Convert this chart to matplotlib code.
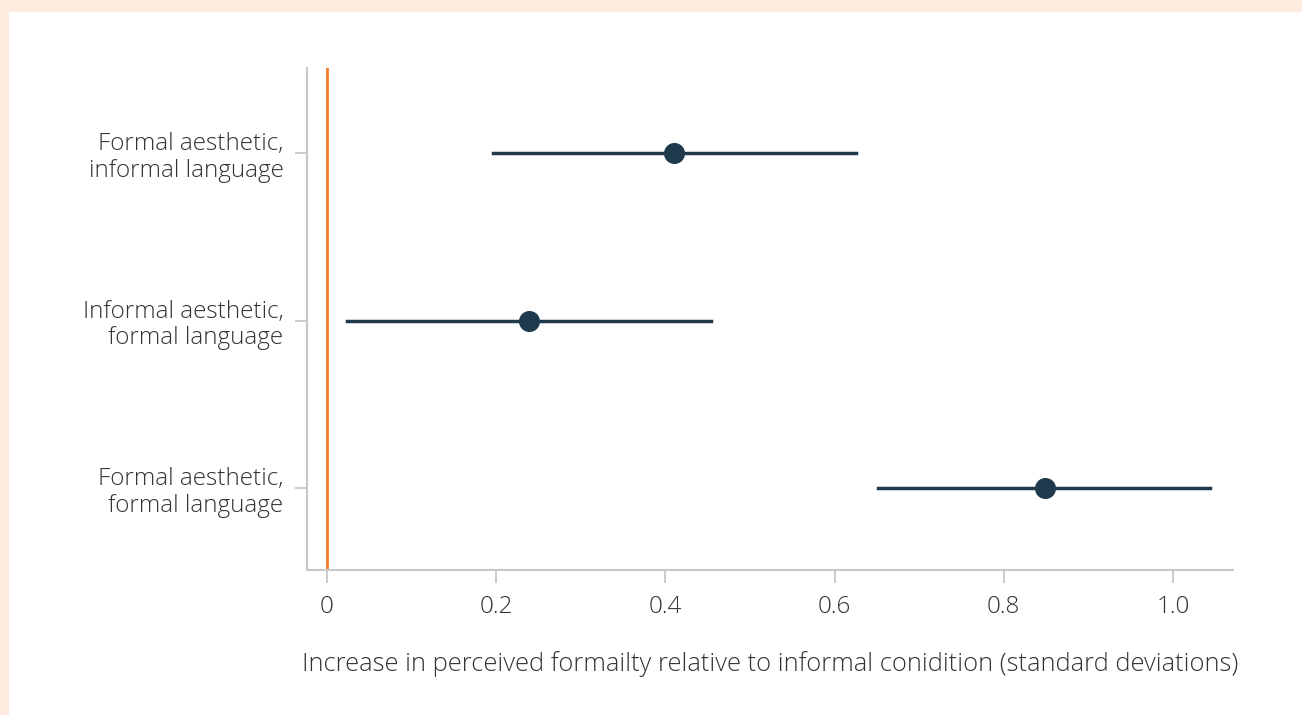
import matplotlib.pyplot as plt
from matplotlib.patches import Rectangle

labels = ["Formal aesthetic,\ninformal language",
          "Informal aesthetic,\nformal language",
          "Formal aesthetic,\nformal language"]
estimates = [0.41, 0.239, 0.849]
ci_low = [0.196, 0.024, 0.651]
ci_high = [0.625, 0.454, 1.044]
xticks = [0, 0.2, 0.4, 0.6, 0.8, 1.0]
xticklabels = ["0", "0.2", "0.4", "0.6", "0.8", "1.0"]

plt.rcParams['font.family'] = ['Open Sans', 'DejaVu Sans']
plt.rcParams['font.weight'] = 'light'

fig = plt.figure(figsize=(13.02, 7.15), dpi=100, facecolor="#FDEBE0")
fig.patches.append(Rectangle((9 / 1302, 0), 1, 1 - 12 / 715, transform=fig.transFigure,
                             facecolor="white", edgecolor="none", zorder=-1))
ax = fig.add_axes([307 / 1302, 1 - 570 / 715, (1233 - 307) / 1302, (570 - 68) / 715])
ax.set_facecolor("none")
ax.set_zorder(1)

navy = "#1F3A4D"
grey = "#C8C8C8"
txt = "#333333"
ypos = list(range(len(labels)))

ax.axvline(0, color="#F47B2A", lw=2, zorder=1)
for y, e, lo, hi in zip(ypos, estimates, ci_low, ci_high):
    ax.plot([lo, hi], [y, y], color=navy, lw=2.5, zorder=2)
ax.scatter(estimates, ypos, s=200, color=navy, zorder=3)

ax.set_ylim(2.49, -0.51)
ax.set_xlim(-0.0236, 1.071)
ax.set_yticks(ypos)
ax.set_yticklabels(labels, fontsize=17.5, color=txt, ha="right", linespacing=1.15)
ax.set_xticks(xticks)
ax.set_xticklabels(xticklabels, fontsize=17.5, color=txt)
ax.tick_params(axis="both", length=9, width=1.3, color=grey)
ax.tick_params(axis="y", pad=8)
ax.tick_params(axis="x", pad=9)

for s in ["top", "right"]:
    ax.spines[s].set_visible(False)
for s in ["left", "bottom"]:
    ax.spines[s].set_color(grey)
    ax.spines[s].set_linewidth(1.5)

ax.set_xlabel("Increase in perceived formailty relative to informal conidition (standard deviations)",
              fontsize=18.4, fontweight="light", color=txt, labelpad=23)

plt.savefig("out.png", dpi=100, facecolor=fig.get_facecolor())
